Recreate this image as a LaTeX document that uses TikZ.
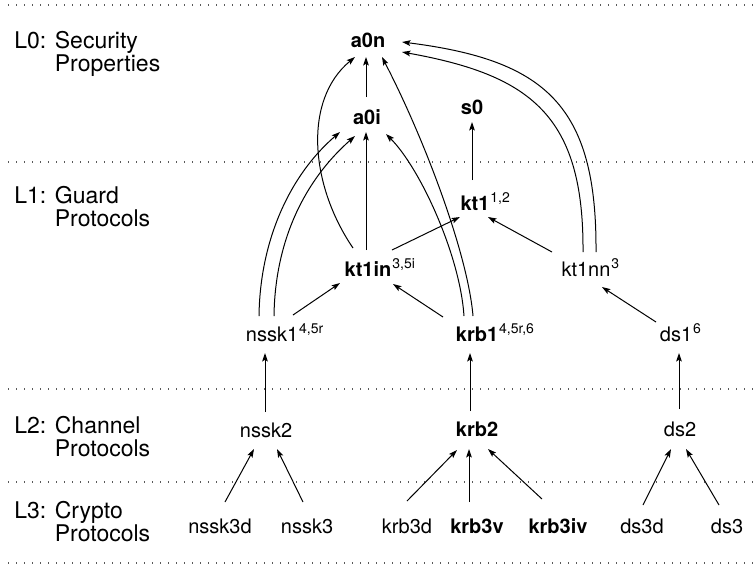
\documentclass[tikz,border=0pt]{standalone}
\usepackage{fontspec}
\setmainfont{TeX Gyre Heros}
\usetikzlibrary{arrows.meta}
\newcommand{\supnum}[1]{\rlap{\hspace{0.5pt}\raisebox{3.6pt}{\fontsize{7}{7}\selectfont\mdseries #1}}}
\begin{document}
\begin{tikzpicture}[x=0.5pt,y=-0.5pt,
  nd/.style={anchor=base,inner sep=0pt,font=\fontsize{10}{12}\selectfont},
  bnd/.style={nd,font=\fontsize{10}{12}\selectfont\bfseries},
  lab/.style={anchor=base west,inner sep=0pt,font=\fontsize{11.5}{11.5}\selectfont},
  sepline/.style={line width=0.6pt,black!65,dash pattern=on 0.6pt off 3.4pt},
  ar/.style={line width=0.5pt,-{Stealth[length=4.2pt,width=2.8pt,inset=0.8pt]}}]
\useasboundingbox (0,0) rectangle (756,569);

% layer separators
\draw[sepline] (8,5) -- (756,5);
\draw[sepline] (8,162) -- (756,162);
\draw[sepline] (8,389) -- (756,389);
\draw[sepline] (8,482) -- (756,482);
\draw[sepline] (8,563) -- (756,563);

% layer labels
\node[lab] (L0) at (14,48) {L0: \begin{tabular}[t]{@{}l@{}}Security\\Properties\end{tabular}};
\node[lab] (L1) at (14,203) {L1: \begin{tabular}[t]{@{}l@{}}Guard\\Protocols\end{tabular}};
\node[lab] (L2) at (14,433) {L2: \begin{tabular}[t]{@{}l@{}}Channel\\Protocols\end{tabular}};
\node[lab] (L3) at (14,518) {L3: \begin{tabular}[t]{@{}l@{}}Crypto\\Protocols\end{tabular}};

% nodes
\node[bnd] (a0n) at (368,47) {a0n};
\node[bnd] (a0i) at (367,124) {a0i};
\node[bnd] (s0) at (472,114) {s0};
\node[bnd] (kt1) at (475,210) {kt1\supnum{1,2}};
\node[bnd] (kt1in) at (368,276) {kt1in\supnum{3,5i}};
\node[nd] (kt1nn) at (586,276) {kt1nn\supnum{3}};
\node[nd] (nssk1) at (272,341) {nssk1\supnum{4,5r}};
\node[bnd] (krb1) at (477,341) {krb1\supnum{4,5r,6}};
\node[nd] (ds1) at (676,341) {ds1\supnum{6}};
\node[nd] (nssk2) at (266,437) {nssk2};
\node[bnd] (krb2) at (477,436) {krb2};
\node[nd] (ds2) at (680,436) {ds2};
\node[nd] (nssk3d) at (220,533) {nssk3d};
\node[nd] (nssk3) at (307,533) {nssk3};
\node[nd] (krb3d) at (407,533) {krb3d};
\node[bnd] (krb3v) at (477,533) {krb3v};
\node[bnd] (krb3iv) at (558,533) {krb3iv};
\node[nd] (ds3d) at (642,533) {ds3d};
\node[nd] (ds3) at (727,533) {ds3};

% edges
\draw[ar] ([shift={(-1,-27)}]a0i.base) -- ([shift={(-2,10)}]a0n.base);
\draw[ar] ([shift={(-2,-26)}]kt1in.base) -- ([shift={(-1,8)}]a0i.base);
\draw[ar] ([shift={(-15,-28)}]kt1in.base) .. controls (310,185) and (303,100) .. ([shift={(-13,10)}]a0n.base);
\draw[ar] ([shift={(-13,-25)}]nssk1.base) .. controls (260,240) and (290,175) .. ([shift={(-27,8)}]a0i.base);
\draw[ar] ([shift={(2,-25)}]nssk1.base) .. controls (275,240) and (305,180) .. ([shift={(-12,12)}]a0i.base);
\draw[ar] ([shift={(-13,-25)}]krb1.base) .. controls (460,255) and (420,168) .. ([shift={(19,10)}]a0i.base);
\draw[ar] ([shift={(-4,-25)}]krb1.base) .. controls (468,255) and (425,140) .. ([shift={(14,10)}]a0n.base);
\draw[ar] ([shift={(-3,-30)}]kt1.base) -- ([shift={(0,8)}]s0.base);
\draw[ar] ([shift={(24,-26)}]kt1in.base) -- ([shift={(-15,7)}]kt1.base);
\draw[ar] ([shift={(-34,-24)}]kt1nn.base) -- ([shift={(13,7)}]kt1.base);
\draw[ar] ([shift={(10,-24)}]kt1nn.base) .. controls (597,105) and (545,60) .. ([shift={(34,-5)}]a0n.base);
\draw[ar] ([shift={(-3,-24)}]kt1nn.base) .. controls (584,115) and (530,75) .. ([shift={(34,5)}]a0n.base);
\draw[ar] ([shift={(21,-26)}]nssk1.base) -- ([shift={(-28,7)}]kt1in.base);
\draw[ar] ([shift={(-34,-24)}]krb1.base) -- ([shift={(25,8)}]kt1in.base);
\draw[ar] ([shift={(-20,-19)}]ds1.base) -- ([shift={(16,11)}]kt1nn.base);
\draw[ar] ([shift={(-1,-25)}]nssk2.base) -- ([shift={(-7,12)}]nssk1.base);
\draw[ar] ([shift={(-7,-25)}]krb2.base) -- ([shift={(-7,12)}]krb1.base);
\draw[ar] ([shift={(-1,-27)}]ds2.base) -- ([shift={(3,12)}]ds1.base);
\draw[ar] ([shift={(5,-31)}]nssk3d.base) -- ([shift={(-12,12)}]nssk2.base);
\draw[ar] ([shift={(-4,-31)}]nssk3.base) -- ([shift={(11,12)}]nssk2.base);
\draw[ar] ([shift={(0,-32)}]krb3d.base) -- ([shift={(-20,14)}]krb2.base);
\draw[ar] ([shift={(-8,-31)}]krb3v.base) -- ([shift={(-8,13)}]krb2.base);
\draw[ar] ([shift={(-16,-34)}]krb3iv.base) -- ([shift={(11,13)}]krb2.base);
\draw[ar] ([shift={(1,-28)}]ds3d.base) -- ([shift={(-9,13)}]ds2.base);
\draw[ar] ([shift={(-8,-28)}]ds3.base) -- ([shift={(6,13)}]ds2.base);
\end{tikzpicture}
\end{document}
